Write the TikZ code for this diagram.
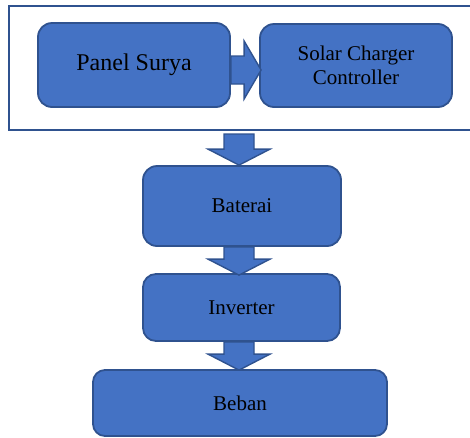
\documentclass[tikz,border=0pt]{standalone}
\usepackage{fontspec}
\setmainfont{Liberation Serif}
\usetikzlibrary{calc}
\definecolor{boxfill}{HTML}{4472C4}
\definecolor{boxline}{HTML}{2F528F}
\tikzset{
 blk/.style={draw=boxline, fill=boxfill, line width=1.8pt, rounded corners=14pt, inner sep=0pt, text=black, font=\fontsize{21}{24.5}\selectfont, align=center},
 barrow/.style={draw=boxline, fill=boxfill, line width=1.4pt, line join=miter},
 frame/.style={draw=boxline, line width=2pt, inner sep=0pt}
}
\newcommand\blockdown[2]{%
 \filldraw[barrow] let \p1=(#1), \p2=(#2) in
 (\x1-15pt,\y1) -- (\x1+15pt,\y1) -- (\x1+15pt,\y2+16pt) -- (\x1+31pt,\y2+16pt) -- (\x1,\y2) -- (\x1-31pt,\y2+16pt) -- (\x1-15pt,\y2+16pt) -- cycle;}
\begin{document}
\begin{tikzpicture}[x=1pt,y=-1pt]
\useasboundingbox (0,0) rectangle (470,437);
\node[frame, minimum width=471pt, minimum height=124pt] (grp) at (244.5,68) {};
\node[blk, minimum width=192pt, minimum height=84pt, font=\fontsize{24}{28}\selectfont] (ps) at (134,65) {Panel Surya};
\node[blk, minimum width=192pt, minimum height=83pt] (scc) at (356,65.5) {Solar Charger\\Controller};
\node[blk, minimum width=198pt, minimum height=80pt] (bat) at (242,206) {Baterai};
\node[blk, minimum width=197pt, minimum height=67pt, rounded corners=13pt] (inv) at (241.5,307.5) {Inverter};
\node[blk, minimum width=294pt, minimum height=66pt, rounded corners=12pt] (beb) at (240,403) {Beban};
\coordinate (ax) at (239,0);
\filldraw[barrow] let \p1=($(ps.east)+(0,5)$), \p2=($(scc.west)+(2,5)$) in
 (\x1,\y1+14pt) -- (\x2-17pt,\y1+14pt) -- (\x2-17pt,\y1+29pt) -- (\x2,\y1) -- (\x2-17pt,\y1-29pt) -- (\x2-17pt,\y1-14pt) -- (\x1,\y1-14pt) -- cycle;
\blockdown{$(ax |- grp.south)+(0,3)$}{$(ax |- bat.north)$}
\blockdown{$(ax |- bat.south)$}{$(ax |- inv.north)+(0,2)$}
\blockdown{$(ax |- inv.south)$}{$(ax |- beb.north)+(0,1)$}
\end{tikzpicture}
\end{document}
